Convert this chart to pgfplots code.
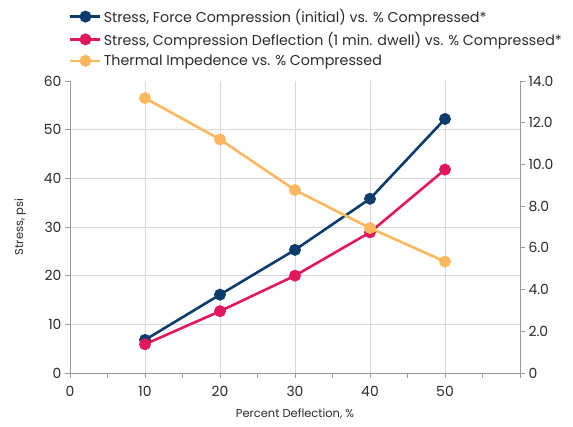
\documentclass[border=0pt]{standalone}
\usepackage{fontspec}
\setmainfont{Poppins}
\usepackage{pgfplots}
\pgfplotsset{compat=1.18}
\definecolor{navy}{HTML}{0B3C6B}
\definecolor{crimson}{HTML}{E0195A}
\definecolor{peach}{HTML}{FDB85F}
\definecolor{axisgray}{HTML}{9A9A9A}
\definecolor{gridgray}{HTML}{D8D8D8}
\definecolor{txt}{HTML}{2B2B2B}

\pgfplotsset{
  common/.style={
    scale only axis, width=450bp, height=292bp,
    xmin=0, xmax=60, ymin=0,
    axis line style={axisgray, line width=0.9bp},
    tick style={axisgray, line width=0.9bp},
    major tick length=5bp, minor tick length=5bp,
    tick align=outside,
    tick label style={font=\fontsize{14}{16}\selectfont, text=txt},
    /pgf/number format/assume math mode=true,
    legend image code/.code={\draw[mark repeat=2, mark phase=2, #1] plot coordinates {(0bp,0bp) (15bp,0bp) (30bp,0bp)};},
  },
  series/.style={color=#1, line width=2.6bp, mark=*, mark size=4.6bp, mark options={solid, fill=#1}},
}

\begin{document}
\begin{tikzpicture}
\useasboundingbox (-70bp,-54bp) rectangle (503bp,373bp);
\begin{axis}[
  common,
  ymax=60,
  axis x line*=bottom, axis y line*=left,
  xtick={0,10,...,50}, minor xtick={5,15,...,55,60},
  ytick={0,10,...,50}, extra y ticks={60}, extra y tick style={grid=none},
  grid=major, grid style={gridgray, line width=0.8bp},
  xticklabel style={yshift=-5bp},
  xlabel={Percent Deflection, \%},
  ylabel={Stress, psi},
  label style={font=\fontsize{11.5}{13}\selectfont, text=txt},
  xlabel style={yshift=-5bp},
  ylabel style={yshift=1bp},
  legend cell align=left,
  legend style={draw=none, fill=none, at={(rel axis cs:0,1)}, anchor=south west, xshift=-4bp, yshift=10bp,
    font=\fontsize{14.3}{16}\selectfont, text=txt, row sep=4bp,
    /tikz/every even column/.append style={column sep=3bp}},
]
\addplot[series=navy] coordinates {(10,6.8) (20,16.1) (30,25.3) (40,35.8) (50,52.2)};
\addlegendentry{Stress, Force Compression (initial) vs. \% Compressed*}
\addplot[series=crimson] coordinates {(10,5.9) (20,12.7) (30,20.0) (40,28.9) (50,41.8)};
\addlegendentry{Stress, Compression Deflection (1 min. dwell) vs. \% Compressed*}
\addlegendimage{series=peach}
\addlegendentry{Thermal Impedence vs. \% Compressed}
\end{axis}
\begin{axis}[
  common,
  ymax=14,
  axis y line*=right, axis x line=none,
  ytick={0,2,...,14},
  yticklabels={0,2.0,4.0,6.0,8.0,10.0,12.0,14.0},
]
\addplot[series=peach] coordinates {(10,13.18) (20,11.2) (30,8.77) (40,6.95) (50,5.34)};
\end{axis}
\end{tikzpicture}
\end{document}
